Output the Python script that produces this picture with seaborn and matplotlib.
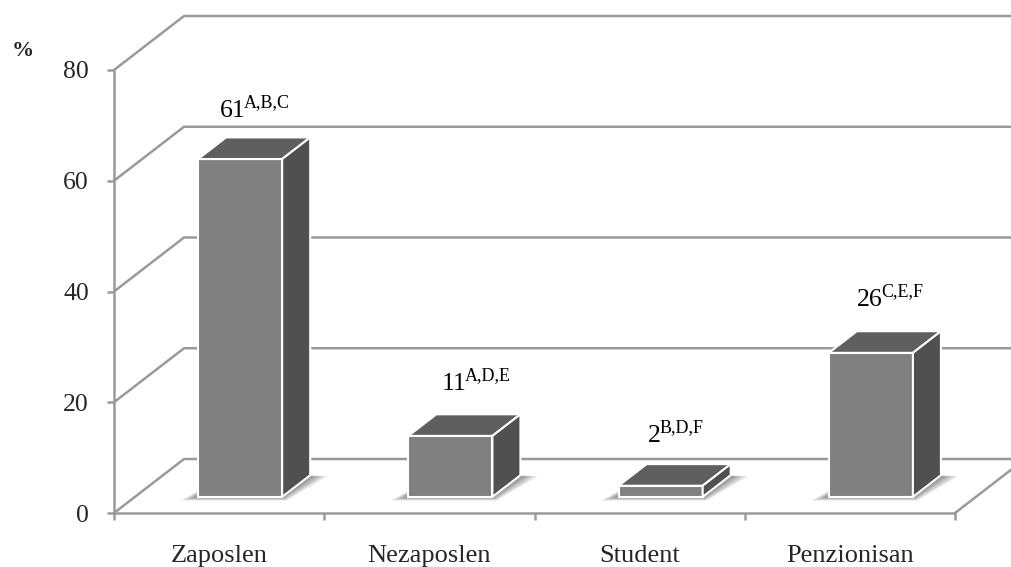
import matplotlib
matplotlib.use("Agg")
import matplotlib.pyplot as plt
from matplotlib.patches import Polygon
import seaborn as sns

# Employment status shares (%) with significance letters
categories = ["Zaposlen", "Nezaposlen", "Student", "Penzionisan"]
values = [61, 11, 2, 26]
sig_letters = ["A,B,C", "A,D,E", "B,D,F", "C,E,F"]
y_ticks = [0, 20, 40, 60, 80]

sns.set_theme(style="white")
plt.rcParams["font.family"] = ["Liberation Serif", "DejaVu Serif"]

GRID = "#9a9a9a"
FRONT, TOP, SIDE = "#808080", "#5f5f5f", "#505050"
DPI = 100
PT = 72 / DPI  # points per pixel

# oblique projection: depth 0..1 shifts by (DX, DY) in data units
DX, DY = 0.333, 9.75
D_FRONT, D_BACK = 0.3, 0.7

# small hand nudges of the value labels (pixels: right, up)
label_nudge = [(1, 0.5), (12, 4.5), (1, 2.5), (5, 5.5)]

fig = plt.figure(figsize=(10.11, 5.67), dpi=DPI)
ax = fig.add_axes([114 / 1011, 54 / 567, 841 / 1011, 443 / 567])

sns.barplot(x=categories, y=values, color=FRONT, width=0.4, saturation=1,
            edgecolor="white", linewidth=1.5, ax=ax, zorder=5)
ax.set_xlim(-0.5, 3.5)
ax.set_ylim(0, 80)

# back walls and floor
for yv in y_ticks:
    ax.plot([-0.5, -0.5 + DX, 4.5], [yv, yv + DY, yv + DY], color=GRID,
            lw=1.8, clip_on=False, zorder=1, solid_joinstyle="miter")
ax.plot([3.5, 3.5 + DX], [0, DY], color=GRID, lw=1.8, clip_on=False, zorder=1)

# turn the flat bars into boxes
ox, oy = D_FRONT * DX, D_FRONT * DY
bx, by = (D_BACK - D_FRONT) * DX, (D_BACK - D_FRONT) * DY
label_pairs = []
for patch, v, lab, nudge in zip(ax.patches, values, sig_letters, label_nudge):
    patch.set_x(patch.get_x() + ox)
    patch.set_y(oy)
    patch.set_clip_on(False)
    x0 = patch.get_x()
    x1 = x0 + patch.get_width()
    yb, yt = patch.get_y(), patch.get_y() + patch.get_height()

    # soft floor shadow, stretched left at the front and right at the back
    n = 9
    for k in range(n):
        t = (k + 1) / n
        shadow = [(x0 - 0.085 * t, yb - 0.7 * t), (x1 + 0.02 * t, yb - 0.7 * t),
                  (x1 + bx + 0.085 * t, yb + by - 0.2 * t), (x0 + bx, yb + by)]
        ax.add_patch(Polygon(shadow, closed=True, facecolor="black", alpha=0.06,
                             edgecolor="none", zorder=2, clip_on=False))

    top = [(x0, yt), (x1, yt), (x1 + bx, yt + by), (x0 + bx, yt + by)]
    side = [(x1, yb), (x1, yt), (x1 + bx, yt + by), (x1 + bx, yb + by)]
    ax.add_patch(Polygon(top, closed=True, facecolor=TOP, edgecolor="white",
                         lw=1.5, zorder=6, clip_on=False, joinstyle="round"))
    ax.add_patch(Polygon(side, closed=True, facecolor=SIDE, edgecolor="white",
                         lw=1.5, zorder=6, clip_on=False, joinstyle="round"))

    # value label with superscript letters, centred over the box
    anchor = ((x0 + x1) / 2 + bx / 2, yt + by / 2)
    main = ax.annotate(str(v), xy=anchor, xytext=(0, 22), textcoords="offset points",
                       ha="left", va="baseline", fontsize=18.5, color="black",
                       zorder=7, annotation_clip=False)
    sup = ax.annotate(lab, xy=anchor, xytext=(0, 29), textcoords="offset points",
                      ha="left", va="baseline", fontsize=13, color="black",
                      zorder=7, annotation_clip=False)
    label_pairs.append((main, sup, nudge))

# axes styling
for s in ["top", "right"]:
    ax.spines[s].set_visible(False)
for s in ["left", "bottom"]:
    ax.spines[s].set_color(GRID)
    ax.spines[s].set_linewidth(1.8)
    ax.spines[s].set_zorder(3)

ax.set_yticks(y_ticks)
ax.set_yticklabels([str(t) for t in y_ticks])
ax.set_xticks(range(len(categories)))
ax.set_xticklabels(categories)
ax.set_xticks([-0.5, 0.5, 1.5, 2.5, 3.5], minor=True)
ax.tick_params(axis="y", which="major", direction="out", length=5, width=1.8,
               color=GRID, pad=13, labelsize=18.5, left=True)
ax.tick_params(axis="x", which="major", length=0, pad=23, labelsize=19)
ax.tick_params(axis="x", which="minor", direction="out", length=5, width=1.8,
               color=GRID, bottom=True)
ax.set_xlabel("")
ax.set_ylabel("")
ax.grid(False)
ax.set_facecolor("none")

fig.text(12 / 1011, 1 - 56 / 567, "%", fontsize=16, fontweight="bold",
         ha="left", va="baseline")

# centre each number+superscript pair horizontally
fig.canvas.draw()
renderer = fig.canvas.get_renderer()
for main, sup, (ndx, ndy) in label_pairs:
    wm = main.get_window_extent(renderer).width * PT
    ws = sup.get_window_extent(renderer).width * PT
    gap = -1.0
    start = -(wm + ws + gap) / 2 + ndx * PT
    main.set_position((start, 22 + ndy * PT))
    sup.set_position((start + wm + gap, 29 + ndy * PT))

fig.savefig("out.png", dpi=DPI)
